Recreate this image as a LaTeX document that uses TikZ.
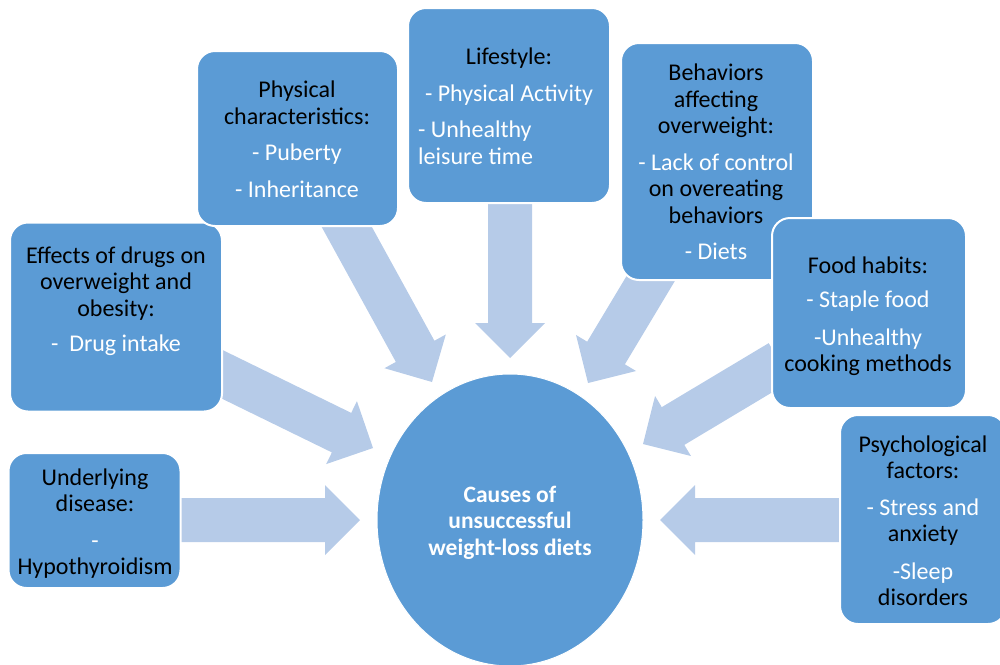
\documentclass[tikz,border=0pt]{standalone}
\usepackage{fontspec}
\setmainfont{Carlito}
\usetikzlibrary{calc,shapes.geometric}
\definecolor{boxblue}{HTML}{5B9BD5}
\definecolor{arrowblue}{HTML}{B6CBE8}
\tikzset{
  boxstyle/.style={draw=white, line width=2pt, fill=boxblue, rounded corners=18pt, inner sep=0pt},
  txt/.style={align=center, font=\fontsize{24}{26.5}\selectfont, inner sep=0pt,
    execute at begin node=\strut, execute at end node=\strut},
  txtl/.style={txt, align=left},
  arrowfill/.style={fill=arrowblue},
}
\newcommand\blockarrow[2]{%
  \coordinate (#1-hb) at ($(#2)!35pt!(#1)$);
  \fill[arrowfill] ($(#1)!22pt!90:(#2)$) -- ($(#1-hb)!22pt!90:(#2)$) -- ($(#1-hb)!35pt!90:(#2)$) -- (#2)
    -- ($(#1-hb)!35pt!-90:(#2)$) -- ($(#1-hb)!22pt!-90:(#2)$) -- ($(#1)!22pt!-90:(#2)$) -- cycle;}
\begin{document}
\begin{tikzpicture}[x=1pt,y=-1pt]
\useasboundingbox (0,0) rectangle (1000,664);
\clip (0,0) rectangle (1000,664);
% arrow end points
\coordinate (a1t) at (197,362); \coordinate (a1h) at (373,448);
\coordinate (a2t) at (338,211); \coordinate (a2h) at (432,382);
\coordinate (a3t) at (510,190); \coordinate (a3h) at (510,358);
\coordinate (a4t) at (660,263); \coordinate (a4h) at (588,383);
\coordinate (a5t) at (780,362); \coordinate (a5h) at (643,444);
\coordinate (a6t) at (850,520); \coordinate (a6h) at (660,520);
\coordinate (a7t) at (170,520); \coordinate (a7h) at (360,520);
\blockarrow{a1t}{a1h}
\blockarrow{a2t}{a2h}
\blockarrow{a3t}{a3h}
\blockarrow{a4t}{a4h}
\blockarrow{a5t}{a5h}
\blockarrow{a6t}{a6h}
\blockarrow{a7t}{a7h}
% boxes
\node[boxstyle, minimum width=212pt, minimum height=189pt] (drugs) at (116,317) {};
\node[boxstyle, minimum width=201pt, minimum height=175pt] (phys) at (297.5,138.5) {};
\node[boxstyle, minimum width=202pt, minimum height=195pt] (life) at (509,105.5) {};
\node[boxstyle, minimum width=192pt, minimum height=237pt] (behav) at (717,161.5) {};
\node[boxstyle, minimum width=194pt, minimum height=190pt] (food) at (869,313) {};
\node[boxstyle, minimum width=166pt, minimum height=209pt] (psych) at (923,519.5) {};
\node[boxstyle, minimum width=172pt, minimum height=135pt] (under) at (94.5,520.5) {};
% texts
\node[txt] (tdrugs) at (116,303) {Effects of drugs on\\overweight and\\obesity:\\[9pt]\color{white}-\ \ Drug intake};
\node[txt] (tphys) at (297,143) {Physical\\characteristics:\\[10pt]\color{white}- Puberty\\[10pt]\color{white}- Inheritance};
\node[txt] (tlife) at (509,78.5) {Lifestyle:\\[11pt]\color{white}- Physical Activity};
\node[txtl, anchor=west, text=white] (tlife2) at (418,146.5) {- Unhealthy\\leisure time};
\node[txt] (tbehav) at (716,166) {Behaviors\\affecting\\overweight:\\[10pt]\color{white}- Lack of control\\on overeating\\behaviors\\[10pt]\color{white}- Diets};
\node[txt] (tfood) at (868,318) {Food habits:\\[8pt]\color{white}- Staple food\\[11pt]\color{white}-Unhealthy\\cooking methods};
\node[txt] (tpsych) at (923,524.5) {Psychological\\factors:\\[10pt]\color{white}- Stress and\\anxiety\\[11pt]\color{white}-Sleep\\disorders};
\node[txt] (tunder) at (95,525.5) {Underlying\\disease:\\[10pt]\color{white}-\\Hypothyroidism};
% centre
\node[ellipse, fill=boxblue, draw=white, line width=1pt, minimum width=266pt, minimum height=292pt, inner sep=0pt,
  txt, text=white, font=\fontsize{23.5}{26.5}\selectfont\bfseries] (centre) at (510,520)
  {\rule{0pt}{25pt}Causes of\\unsuccessful\\weight-loss diets};
\end{tikzpicture}
\end{document}
